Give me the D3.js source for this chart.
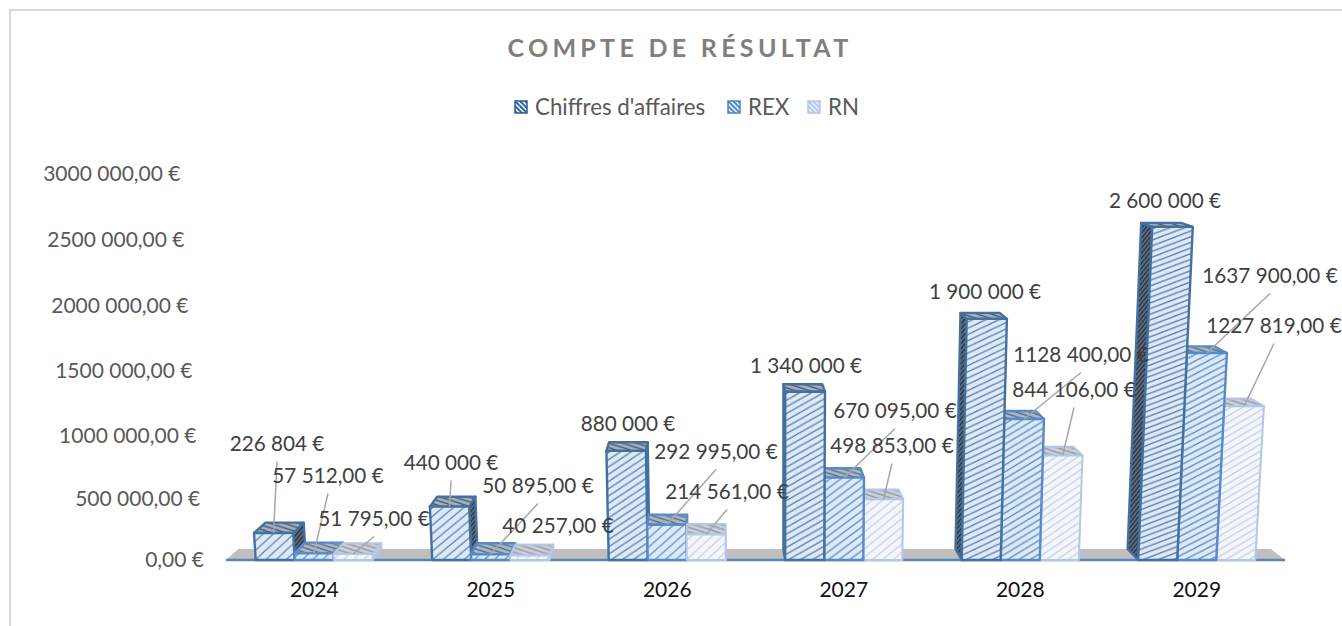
<!DOCTYPE html>
<html>
<head>
<meta charset="utf-8">
<script src="https://cdn.jsdelivr.net/npm/d3@7"></script>
<style>
  html, body { margin: 0; padding: 0; background: #fff; overflow: hidden; }
  text { font-family: Lato, "Open Sans", sans-serif; }
</style>
</head>
<body>
<div id="chart"></div>
<script>
// chart values
var years = ["2024", "2025", "2026", "2027", "2028", "2029"];
var seriesNames = ["Chiffres d'affaires", "REX", "RN"];
var chiffres = [226804, 440000, 880000, 1340000, 1900000, 2600000];
var rex = [57512, 50895, 292995, 670095, 1128400, 1637900];
var rn = [51795, 40257, 214561, 498853, 844106, 1227819];
var yTicks = [0, 500000, 1000000, 1500000, 2000000, 2500000, 3000000];
var yTickLabels = ["0,00 €", "500 000,00 €", "1000 000,00 €", "1500 000,00 €", "2000 000,00 €", "2500 000,00 €", "3000 000,00 €"];

// value label texts, same order as the years
var labelsChiffres = ["226 804 €", "440 000 €", "880 000 €", "1 340 000 €", "1 900 000 €", "2 600 000 €"];
var labelsRex = ["57 512,00 €", "50 895,00 €", "292 995,00 €", "670 095,00 €", "1128 400,00 €", "1637 900,00 €"];
var labelsRn = ["51 795,00 €", "40 257,00 €", "214 561,00 €", "498 853,00 €", "844 106,00 €", "1227 819,00 €"];

// labels were dragged by hand in the original, so they have their own placement
var placeChiffres = [[277, 444], [451, 463], [628, 424], [806, 366], [985, 292], [1165, 201]];
var placeRex = [[328, 476], [538, 486], [716, 452], [895, 411], [1081, 355], [1270, 276]];
var placeRn = [[374, 519], [558, 526], [727, 492], [892, 446], [1074, 390], [1274, 326]];
var leaderChiffres = [1, 1, 0, 0, 0, 0];
var leaderRex = [1, 1, 1, 1, 1, 1];
var leaderRn = [1, 0, 1, 1, 1, 1];

var W = 1342, H = 626;
var baseY = 560;

var svg = d3.select("#chart").append("svg")
    .attr("width", W)
    .attr("height", H);
var defs = svg.append("defs");

// the 3d look of the original is not quite linear, a pow scale fits the ticks well
var y = d3.scalePow().exponent(1.03)
    .domain([0, 3000000])
    .range([baseY, 174]);
var x0 = d3.scaleBand().domain(years).range([226, 1285]);
var x1 = d3.scaleBand().domain(seriesNames).range([0, x0.bandwidth()]).paddingInner(0).paddingOuter(0.76);

// front plane -> screen, d=1 is the back of the box
function proj(px, v, d) {
    var py = y(v);
    var sx = px + 0.000119 * (px - 785) * (baseY - py);
    if (d) {
        sx += 0.025 * (715 - sx);
        py -= 0.021 * (py - 37);
    }
    return [sx, py];
}

function poly(pts) { return pts.map(function(p) { return p[0].toFixed(1) + "," + p[1].toFixed(1); }).join(" "); }

var styles = [
    { edge: "#44709f", front: ["#dbeafa", "#56769a"], top: ["#a3afbc", "#46566a"], side: ["#5b6c80", "#28333f"], key: "#2f5f96" },
    { edge: "#5a8ac6", front: ["#d8eafc", "#5c82ad"], top: ["#a8b6c6", "#566a80"], side: ["#7f93aa", "#46586c"], key: "#4f86c6" },
    { edge: "#b5c7e6", front: ["#f3f6fc", "#c2cddf"], top: ["#c9ced7", "#8f99a8"], side: ["#c3cedf", "#98a6ba"], key: "#b4c7e7" }
];

// stripes get flatter on tall bars, the fill is stretched with the bar in the original
var tileW = d3.scaleLinear().domain([0, 120, 340]).range([10, 11, 15]);
var tileH = d3.scaleLinear().domain([0, 120, 340]).range([10, 7, 5.6]);

var patId = 0;
function hatch(cols, w, h, sw, flip) {
    var id = "hatch" + (patId++);
    var p = defs.append("pattern")
        .attr("id", id)
        .attr("patternUnits", "userSpaceOnUse")
        .attr("width", w)
        .attr("height", h);
    p.append("rect").attr("width", w).attr("height", h).attr("fill", cols[0]);
    [-w, 0, w].forEach(function(o) {
        var a = flip ? [o - w, -h, o + 2 * w, 2 * h] : [o - w, 2 * h, o + 2 * w, -h];
        p.append("line")
            .attr("x1", a[0]).attr("y1", a[1])
            .attr("x2", a[2]).attr("y2", a[3])
            .attr("stroke", cols[1])
            .attr("stroke-width", sw);
    });
    return "url(#" + id + ")";
}

// border of the chart area
svg.append("path")
    .attr("d", "M10," + H + "V10H" + W)
    .attr("fill", "none")
    .attr("stroke", "#d9d9d9")
    .attr("stroke-width", 2);

// title
svg.append("text")
    .attr("x", 680)
    .attr("y", 57)
    .attr("text-anchor", "middle")
    .style("font-size", "25px")
    .style("font-weight", "700")
    .style("letter-spacing", "4.3px")
    .attr("fill", "#7f7f7f")
    .text("COMPTE DE RÉSULTAT");

// legend
var legendX = [515, 728, 808];
seriesNames.forEach(function(name, i) {
    var g = svg.append("g").attr("transform", "translate(" + legendX[i] + ",101)");
    g.append("rect")
        .attr("width", 12).attr("height", 12)
        .attr("fill", hatch(["#e6eefa", styles[i].key], 5, 5, 1.9, true))
        .attr("stroke", styles[i].key)
        .attr("stroke-width", 1.5);
    g.append("text")
        .attr("x", 20)
        .attr("y", 14)
        .style("font-size", "22.3px")
        .attr("fill", "#595959")
        .text(name);
});

// y axis labels follow the perspective
svg.selectAll(".ytick")
    .data(yTicks)
    .enter().append("text")
    .attr("class", "ytick")
    .attr("x", function(d) { return 204 + (proj(204, d, 0)[0] - 204) * 0.88; })
    .attr("y", function(d) { return y(d) + 7; })
    .attr("text-anchor", "end")
    .style("font-size", "21px")
    .attr("fill", "#595959")
    .text(function(d, i) { return yTickLabels[i]; });

// floor
svg.append("polygon")
    .attr("points", poly([proj(226, 0, 0), proj(226, 0, 1), proj(1285, 0, 1), proj(1285, 0, 0)]))
    .attr("fill", "#bfbfbf");
svg.append("line")
    .attr("x1", 226).attr("x2", 1285)
    .attr("y1", baseY).attr("y2", baseY)
    .attr("stroke", "#5b85b8")
    .attr("stroke-width", 2.5);

// x axis labels
svg.selectAll(".xtick")
    .data(years)
    .enter().append("text")
    .attr("class", "xtick")
    .attr("x", function(d) { return x0(d) + x0.bandwidth() / 2; })
    .attr("y", 597)
    .attr("text-anchor", "middle")
    .style("font-size", "21px")
    .attr("fill", "#111")
    .text(function(d) { return d; });

// bars
var allValues = [chiffres, rex, rn];
var bars = [];
years.forEach(function(yr, i) {
    seriesNames.forEach(function(name, s) {
        var left = x0(yr) + x1(name);
        bars.push({ year: yr, s: s, v: allValues[s][i], left: left, right: left + x1.bandwidth() });
    });
});
// far from the vanishing point first, so the inner sides overlap properly
bars.sort(function(a, b) {
    return Math.abs((b.left + b.right) / 2 - 715) - Math.abs((a.left + a.right) / 2 - 715);
});

bars.forEach(function(b) {
    var st = styles[b.s];
    var h = baseY - y(b.v);
    var g = svg.append("g")
        .attr("stroke", st.edge)
        .attr("stroke-width", b.s == 2 ? 2 : 2.4)
        .attr("stroke-linejoin", "round");
    var fl = proj(b.left, 0, 0), fr = proj(b.right, 0, 0);
    var tl = proj(b.left, b.v, 0), tr = proj(b.right, b.v, 0);
    var bl = proj(b.left, b.v, 1), br = proj(b.right, b.v, 1);
    var gl = proj(b.left, 0, 1), gr = proj(b.right, 0, 1);

    // visible side of the box
    var sidePts = (b.left + b.right) / 2 < 715 ? [fr, gr, br, tr] : [fl, gl, bl, tl];
    g.append("polygon")
        .attr("points", poly(sidePts))
        .attr("fill", hatch(st.side, 4, 5, 1.3));
    g.append("polygon")
        .attr("points", poly([tl, bl, br, tr]))
        .attr("fill", hatch(st.top, 14, 4.5, 1.3, true));
    g.append("polygon")
        .attr("points", poly([fl, tl, tr, fr]))
        .attr("fill", hatch(st.front, tileW(h), tileH(h), 1.15));
});

// leaders and value labels
var allLabels = [labelsChiffres, labelsRex, labelsRn];
var allPlaces = [placeChiffres, placeRex, placeRn];
var allLeaders = [leaderChiffres, leaderRex, leaderRn];
allLabels.forEach(function(texts, s) {
    years.forEach(function(yr, i) {
        if (!allLeaders[s][i]) return;
        var c = x0(yr) + x1(seriesNames[s]) + x1.bandwidth() / 2;
        var end = proj(c, allValues[s][i], 0);
        var pos = allPlaces[s][i];
        svg.append("line")
            .attr("x1", pos[0]).attr("y1", pos[1] + 17.5)
            .attr("x2", end[0]).attr("y2", end[1])
            .attr("stroke", "#a6a6a6")
            .attr("stroke-width", 1.5);
    });
});
allLabels.forEach(function(texts, s) {
    svg.selectAll(".vlabel" + s)
        .data(texts)
        .enter().append("text")
        .attr("class", "vlabel" + s)
        .attr("x", function(d, i) { return allPlaces[s][i][0]; })
        .attr("y", function(d, i) { return allPlaces[s][i][1] + 7; })
        .attr("text-anchor", "middle")
        .style("font-size", "20.7px")
        .attr("fill", "#404040")
        .text(function(d) { return d; });
});
</script>
</body>
</html>
